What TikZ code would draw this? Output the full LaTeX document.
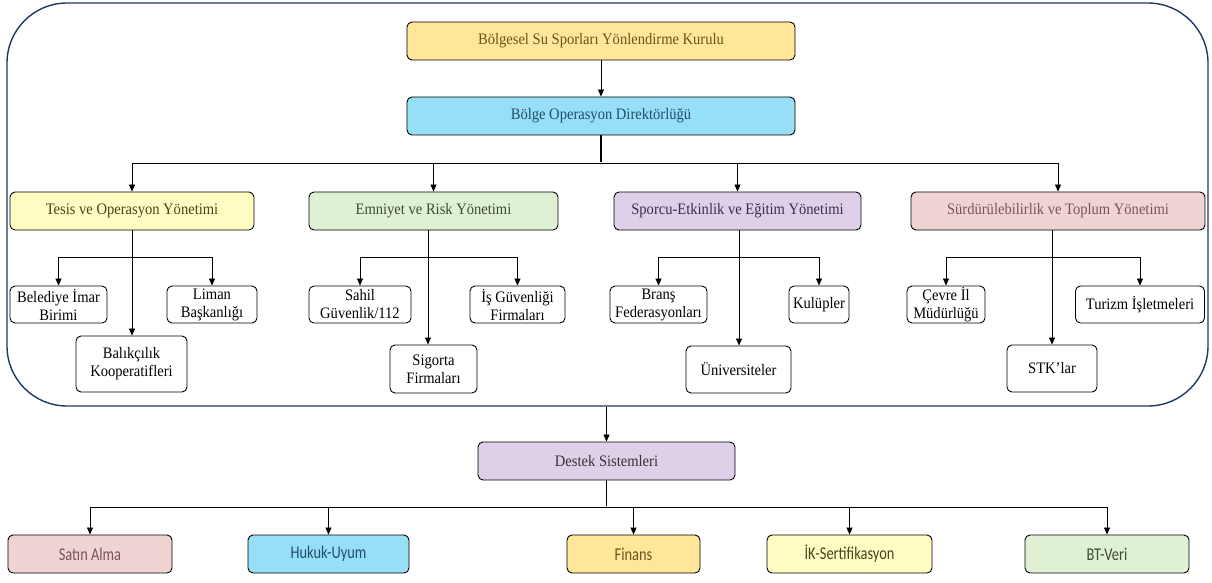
\documentclass[tikz,border=0pt]{standalone}
\usepackage{fontspec}
\setmainfont{Liberation Serif}[FakeStretch=0.91]
\newfontfamily\sansf{Carlito}[FakeStretch=0.8]
\usetikzlibrary{arrows.meta,calc}
\definecolor{cGold}{HTML}{FFE699}
\definecolor{cBlue}{HTML}{97DEF7}
\definecolor{cYel}{HTML}{FFFDC2}
\definecolor{cGrn}{HTML}{E0F0D4}
\definecolor{cLav}{HTML}{DDD0E8}
\definecolor{cPink}{HTML}{F0D4D4}
\definecolor{tGold}{HTML}{6B5320}
\definecolor{tBlue}{HTML}{1F4E6B}
\definecolor{tYel}{HTML}{45451E}
\definecolor{tGrn}{HTML}{3D4A35}
\definecolor{tLav}{HTML}{3A2D4A}
\definecolor{tPink}{HTML}{7A5555}
\definecolor{frameC}{HTML}{1F3864}
\newcommand\fsz{\fontsize{16}{18}\selectfont}
\newcommand\fszs{\fontsize{18}{20}\selectfont}
\tikzset{
  box/.style={draw=black, line width=0.9pt, rounded corners=5pt, inner sep=0pt, align=center, font=\fsz},
  lvl/.style={box, minimum height=38pt},
  leaf/.style={box, fill=white},
  bot/.style={box, minimum height=38pt, font=\sansf\fszs},
  conn/.style={draw=black, line width=0.8pt},
  stem/.style={draw=black, line width=1.6pt},
  arr/.style={conn, -{Triangle[length=7pt,width=6pt]}},
}
\begin{document}
\begin{tikzpicture}[x=1pt,y=-1pt]
\useasboundingbox (0,0) rectangle (1212,583);
% container
\node[draw=frameC, line width=1.4pt, rounded corners=60pt, minimum width=1201pt, minimum height=403pt, inner sep=0pt] (frame) at (607.5,204.5) {};
% top levels
\node[lvl, fill=cGold, text=tGold, minimum width=388pt] (kurul) at (601,41) {Bölgesel Su Sporları Yönlendirme Kurulu};
\node[lvl, fill=cBlue, text=tBlue, minimum width=388pt] (direk) at (601,116) {Bölge Operasyon Direktörlüğü};
% level 2
\node[lvl, fill=cYel, text=tYel, minimum width=244pt] (tesis) at (132,211) {Tesis ve Operasyon Yönetimi};
\node[lvl, fill=cGrn, text=tGrn, minimum width=249pt] (emn) at (433.5,211) {Emniyet ve Risk Yönetimi};
\node[lvl, fill=cLav, text=tLav, minimum width=247pt] (spor) at (737.5,211) {Sporcu-Etkinlik ve Eğitim Yönetimi};
\node[lvl, fill=cPink, text=tPink, minimum width=294pt] (surd) at (1058,211) {Sürdürülebilirlik ve Toplum Yönetimi};
% level 3
\node[leaf, minimum width=97pt, minimum height=37pt] (beled) at (58.5,304.5) {Belediye İmar\\Birimi};
\node[leaf, minimum width=90pt, minimum height=37pt] (liman) at (212,304.5) {Liman\\Başkanlığı};
\node[leaf, minimum width=111pt, minimum height=56pt] (balik) at (131.5,364) {Balıkçılık\\Kooperatifleri};
\node[leaf, minimum width=102pt, minimum height=37pt] (sahil) at (360,304.5) {Sahil\\Güvenlik/112};
\node[leaf, minimum width=95pt, minimum height=37pt] (isg) at (517.5,304.5) {İş Güvenliği\\Firmaları};
\node[leaf, minimum width=87pt, minimum height=48pt] (sig) at (433.5,369) {Sigorta\\Firmaları};
\node[leaf, minimum width=97pt, minimum height=37pt] (brans) at (658.5,304.5) {Branş\\Federasyonları};
\node[leaf, minimum width=60pt, minimum height=37pt] (kulup) at (819,304.5) {Kulüpler};
\node[leaf, minimum width=105pt, minimum height=47pt] (univ) at (738.5,369.5) {Üniversiteler};
\node[leaf, minimum width=78pt, minimum height=37pt] (cevre) at (946,304.5) {Çevre İl\\Müdürlüğü};
\node[leaf, minimum width=90pt, minimum height=47pt] (stk) at (1052,368.5) {STK’lar};
\node[leaf, minimum width=129pt, minimum height=37pt] (turizm) at (1140,304.5) {Turizm İşletmeleri};
% support
\node[lvl, fill=cLav, text=black!80, minimum width=257pt] (destek) at (606.5,461) {Destek Sistemleri};
\node[bot, fill=cPink, text=tPink, minimum width=164pt] (satin) at (90,554) {Satın Alma};
\node[bot, fill=cBlue, text=tBlue, minimum width=161pt] (hukuk) at (328.5,554) {Hukuk-Uyum};
\node[bot, fill=cGold, text=tGold, minimum width=133pt] (finans) at (633.5,554) {Finans};
\node[bot, fill=cYel, text=tYel, minimum width=165pt] (ik) at (849.5,554) {İK-Sertifikasyon};
\node[bot, fill=cGrn, text=tGrn, minimum width=164pt] (bt) at (1107,554) {BT-Veri};
% junction coordinates
\coordinate (b1) at (601,163);
\coordinate (tj) at (132,257);
\coordinate (ej) at (428,257);
\coordinate (sj) at (739,257);
\coordinate (uj) at (1052,257);
\coordinate (b2) at (606.5,507);
% connectors
\draw[arr] (kurul) -- (direk);
\draw[arr] (b1) -| (tesis);
\draw[arr] (b1) -| (emn);
\draw[arr] (b1) -| (spor);
\draw[arr] (b1) -| (surd);
\draw[stem] (direk.south) -- ([yshift=0.8pt]b1);
% tesis group
\draw[arr] (tesis.south) -- (tesis.south |- balik.north);
\draw[arr] (tj) -| (beled);
\draw[arr] (tj) -| (liman);
% emniyet group
\draw[arr] (emn.south -| ej) -- (ej |- sig.north);
\draw[arr] (ej) -| (sahil);
\draw[arr] (ej) -| (isg);
% sporcu group
\draw[arr] (spor.south -| sj) -- (sj |- univ.north);
\draw[arr] (sj) -| (brans);
\draw[arr] (sj) -| (kulup);
% surdur group
\draw[arr] (surd.south -| uj) -- (stk.north);
\draw[arr] (uj) -| (cevre);
\draw[arr] (uj) -| (turizm);
% support
\draw[arr] (destek.north |- frame.south) -- (destek.north);
\draw[stem] (destek.south) -- ([yshift=0.8pt]b2);
\draw[arr] (b2) -| (satin);
\draw[arr] (b2) -| (hukuk);
\draw[arr] (b2) -| (finans);
\draw[arr] (b2) -| (ik);
\draw[arr] (b2) -| (bt);
\end{tikzpicture}
\end{document}
